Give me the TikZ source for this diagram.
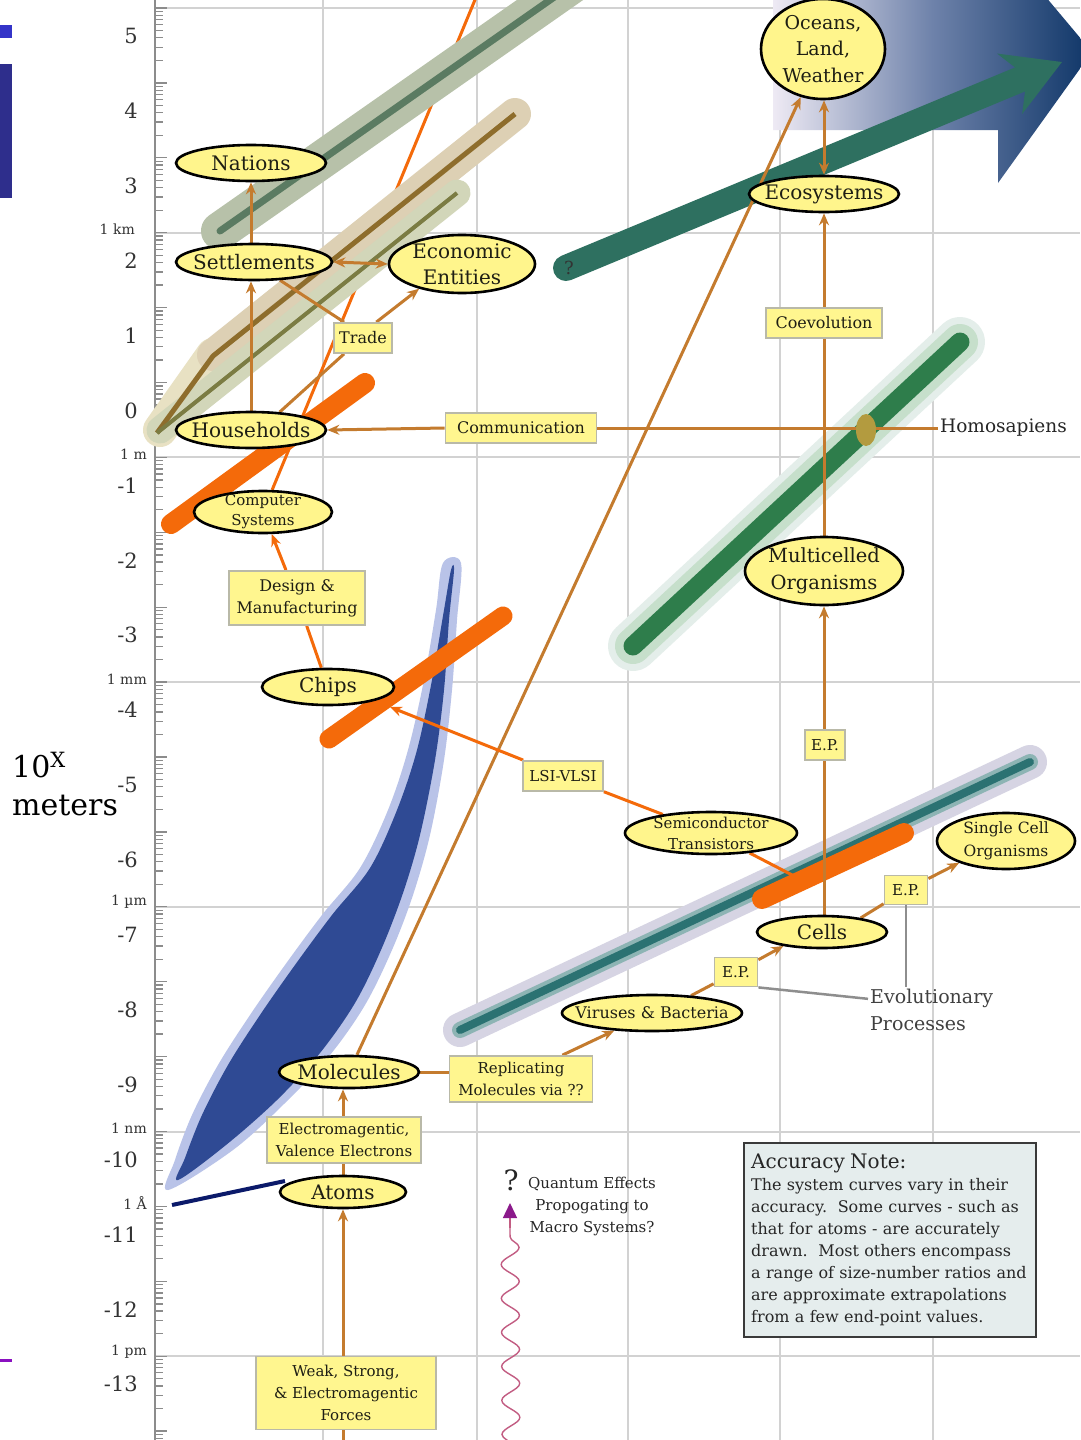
\documentclass[tikz,border=0pt]{standalone}
\usepackage{fontspec}
\setmainfont{DejaVu Serif}
\usetikzlibrary{shapes.geometric,arrows.meta,decorations.pathmorphing}

\definecolor{ellfill}{HTML}{FFF58C}
\definecolor{boxfill}{HTML}{FFF68F}
\definecolor{boxline}{HTML}{B9B9A8}
\definecolor{txt}{HTML}{1E1E14}
\definecolor{brn}{HTML}{C47B2E}
\definecolor{org}{HTML}{F46A0A}
\definecolor{gridc}{HTML}{D2D2D2}
\definecolor{axisc}{HTML}{8C8C8C}
\definecolor{grayline}{HTML}{8E8E8E}
\definecolor{natband}{HTML}{B7C1A9}
\definecolor{natline}{HTML}{5B7B62}
\definecolor{tanband}{HTML}{DDD0B4}
\definecolor{tanlight}{HTML}{E8E1C3}
\definecolor{tanline}{HTML}{8E6D2C}
\definecolor{econband}{HTML}{D2D6B9}
\definecolor{econline}{HTML}{7B7C43}
\definecolor{bluelt}{HTML}{B9C3E8}
\definecolor{bluedk}{HTML}{2F4A94}
\definecolor{mcout}{HTML}{E4EEEA}
\definecolor{mcmid}{HTML}{C6DFCB}
\definecolor{mcin}{HTML}{2E7D4B}
\definecolor{scout}{HTML}{D6D4E3}
\definecolor{scmid}{HTML}{8DB4B4}
\definecolor{scin}{HTML}{2B7272}
\definecolor{tealarr}{HTML}{2E7060}
\definecolor{oceanL}{HTML}{EEEAF4}
\definecolor{oceanM}{HTML}{6E82AA}
\definecolor{oceanR}{HTML}{0E3567}
\definecolor{atomline}{HTML}{0B1A6A}
\definecolor{qwave}{HTML}{C25C82}
\definecolor{qarr}{HTML}{8B1A8B}
\definecolor{hdot}{HTML}{B39B3F}
\definecolor{notefill}{HTML}{E5EDED}
\definecolor{notebd}{HTML}{3A3A3A}
\definecolor{sidebluea}{HTML}{3434C8}
\definecolor{sideblueb}{HTML}{2E2E8C}
\definecolor{sidepurple}{HTML}{8A10C0}

\pgfdeclarelayer{grid}
\pgfdeclarelayer{bars}
\pgfdeclarelayer{conn}
\pgfsetlayers{grid,bars,conn,main}

\newcommand\fsz[2]{\fontsize{#1pt}{#2pt}\selectfont}

\begin{document}
\begin{tikzpicture}[x=1pt,y=-1pt,
  ell/.style={ellipse, draw=black, line width=2.6pt, fill=ellfill, inner sep=0pt},
  lbl/.style={font=\fsz{20}{26}, align=center, text=txt, inner sep=0pt},
  lblbox/.style={rectangle, draw=boxline, line width=1.8pt, fill=boxfill,
    inner xsep=5pt, inner ysep=3pt, align=center, font=\fsz{16}{22}, text=txt},
  brnline/.style={draw=brn, line width=3pt},
  orgline/.style={draw=org, line width=3pt},
  gryline/.style={draw=grayline, line width=2.5pt},
  arr/.style={-{Stealth[length=12pt,width=10pt]}},
  dbl/.style={{Stealth[length=12pt,width=10pt]}-{Stealth[length=12pt,width=10pt]}},
  gridline/.style={draw=gridc, line width=2pt},
  tickline/.style={draw=axisc, line width=1.3pt},
  axlbl/.style={anchor=east, font=\fsz{21}{24}, text=black!80, inner sep=0pt},
  unitlbl/.style={anchor=east, font=\fsz{14}{16}, text=black!80, inner sep=0pt},
  band/.style={line cap=round, line join=round}
]
\useasboundingbox (0,0) rectangle (1080,1440);

% ---------- system nodes ----------
\node[ell, minimum width=150pt, minimum height=36pt, label={[lbl]center:Nations}] (nat) at (251,163) {};
\node[ell, minimum width=156pt, minimum height=36pt, label={[lbl]center:Settlements}] (sett) at (254,262) {};
\node[ell, minimum width=146pt, minimum height=58pt, label={[lbl]center:Economic\\Entities}] (econ) at (462,264) {};
\node[ell, minimum width=150pt, minimum height=36pt, label={[lbl]center:Households}] (hh) at (251,430) {};
\node[ell, minimum width=138pt, minimum height=42pt, label={[lbl,font=\fsz{15}{20}]center:Computer\\Systems}] (comp) at (263,512) {};
\node[ell, minimum width=132pt, minimum height=36pt, label={[lbl]center:Chips}] (chips) at (328,687) {};
\node[ell, minimum width=140pt, minimum height=32pt, label={[lbl]center:Molecules}] (mol) at (349,1072) {};
\node[ell, minimum width=126pt, minimum height=32pt, label={[lbl]center:Atoms}] (atoms) at (343,1192) {};
\node[ell, minimum width=124pt, minimum height=100pt, label={[lbl,font=\fsz{19}{26.5}]center:Oceans,\\Land,\\Weather}] (ocean) at (823,49) {};
\node[ell, minimum width=150pt, minimum height=36pt, label={[lbl]center:Ecosystems}] (eco) at (824,194) {};
\node[ell, minimum width=158pt, minimum height=68pt, label={[lbl,font=\fsz{19.5}{27}]center:Multicelled\\Organisms}] (multi) at (824,571) {};
\node[ell, minimum width=172pt, minimum height=42pt, label={[lbl,font=\fsz{15}{21}]center:Semiconductor\\Transistors}] (semi) at (711,833) {};
\node[ell, minimum width=138pt, minimum height=56pt, label={[lbl,font=\fsz{15.5}{23}]center:Single Cell\\Organisms}] (single) at (1006,841) {};
\node[ell, minimum width=130pt, minimum height=32pt, label={[lbl]center:Cells}] (cells) at (822,932) {};
\node[ell, minimum width=180pt, minimum height=36pt, label={[lbl,font=\fsz{16}{20}]center:Viruses \& Bacteria}] (vir) at (652,1013) {};

% ---------- process labels ----------
\node[lblbox, minimum width=57pt, minimum height=30pt] (trade) at (363,338) {Trade};
\node[lblbox, minimum width=151pt, minimum height=30pt] (comm) at (521,428) {Communication};
\node[lblbox, minimum width=116pt, minimum height=30pt] (coev) at (824,323) {Coevolution};
\node[lblbox, minimum width=136pt, minimum height=54pt] (design) at (297,598) {Design \&\\Manufacturing};
\node[lblbox, minimum width=80pt, minimum height=30pt, font=\fsz{15}{20}] (lsi) at (563,776) {LSI-VLSI};
\node[lblbox, minimum width=40pt, minimum height=30pt, font=\fsz{15}{20}] (ep1) at (825,745) {E.P.};
\node[lblbox, minimum width=43pt, minimum height=29pt, font=\fsz{15}{20}] (ep2) at (906,890) {E.P.};
\node[lblbox, minimum width=43pt, minimum height=29pt, font=\fsz{15}{20}] (ep3) at (736,972) {E.P.};
\node[lblbox, minimum width=143pt, minimum height=46pt, font=\fsz{15}{22}] (repl) at (521,1079) {Replicating\\Molecules via ??};
\node[lblbox, minimum width=154pt, minimum height=46pt, font=\fsz{15}{22}] (emv) at (344,1140) {Electromagentic,\\Valence Electrons};
\node[lblbox, minimum width=180pt, minimum height=73pt, font=\fsz{15}{22}] (wsf) at (346,1393) {Weak, Strong,\\\& Electromagentic\\Forces};

% ---------- free text ----------
\node[anchor=west, font=\fsz{18.5}{24}, text=black!85, inner sep=2pt] (homo) at (938,428) {Homosapiens};
\node[ellipse, fill=hdot, minimum width=20pt, minimum height=32pt, inner sep=0pt] (hsdot) at (866,430) {};
\node[anchor=north west, align=left, font=\fsz{19}{27}, text=black!75, inner sep=2pt] (evo) at (868,987) {Evolutionary\\Processes};
\node[font=\fsz{15}{22}, align=center, text=black!85, inner sep=0pt] (qtext) at (592,1206) {Quantum Effects\\Propogating to\\Macro Systems?};
\node[font=\fsz{28}{30}, text=black!85, inner sep=0pt] (qmark) at (511,1180) {?};
\node[font=\fsz{18}{20}, text=black!80, inner sep=0pt] (tq) at (569,268) {?};
\node[anchor=north west, draw=notebd, line width=2.4pt, fill=notefill, text width=278pt,
  inner xsep=7pt, inner ysep=6pt, minimum height=194pt, align=left, font=\fsz{16}{22}, text=black!85] (acc) at (743,1142)
  {{\fsz{20}{22}Accuracy Note:}\\The system curves vary in their\\accuracy.\ \ Some curves - such as\\that for atoms - are accurately\\drawn.\ \ Most others encompass\\a range of size-number ratios and\\are approximate extrapolations\\from a few end-point values.};

% axis labels
\foreach \v [count=\i from 0] in {5,4,...,-13}
  \node[axlbl] (ax\i) at (138,{36+74.9*\i}) {\v};
\node[unitlbl] (ukm) at (135,229) {1 km};
\node[unitlbl] (um) at (147,454) {1 m};
\node[unitlbl] (umm) at (147,679) {1 mm};
\node[unitlbl] (uum) at (147,902) {1 µm};
\node[unitlbl] (unm) at (147,1128) {1 nm};
\node[unitlbl] (uang) at (147,1203) {1 Å};
\node[unitlbl] (upm) at (147,1352) {1 pm};
\node[anchor=base west, font=\fsz{30}{36}, inner sep=0pt] (ten) at (12,777) {10\textsuperscript{X}};
\node[anchor=base west, font=\fsz{30}{36}, inner sep=0pt] (met) at (12,815) {meters};

% free ends
\coordinate (comptop) at (477,-5);
\coordinate (chipin) at (390,707);
\coordinate (cbar) at (796,877);
\coordinate (wbot) at (343,1445);

% ---------- grid, axis, ticks ----------
\begin{pgfonlayer}{grid}
\fill[white] (0,0) rectangle (1080,1440);
\fill[sidebluea] (0,25) rectangle (12,38);
\fill[sideblueb] (0,64) rectangle (12,198);
\fill[sidepurple] (0,1359) rectangle (12,1362);
\foreach \gx in {323,477,628,780,933} \draw[gridline] (\gx,0) -- (\gx,1440);
\foreach \gy in {8,232.7,457.4,682.1,906.8,1131.5,1356.2} \draw[gridline] (155,\gy) -- (1080,\gy);
\draw[draw=axisc, line width=2pt] (155,0) -- (155,1440);
\foreach \m in {0,...,19}{
  \foreach \k in {2,...,9}{
    \pgfmathsetmacro{\ty}{8+74.9*(\m+1)-74.9*log10(\k)}
    \draw[tickline] (155,\ty) -- (163,\ty);
  }
  \draw[tickline] (155,{8+74.9*\m}) -- (167,{8+74.9*\m});
}
\draw[orgline] (comp) -- (comptop);
\end{pgfonlayer}

% ---------- system curves ----------
\begin{pgfonlayer}{bars}
\shade[left color=oceanL, right color=oceanR, middle color=oceanM]
  (773,-10) -- (998,-10) -- (998,-60) -- (1092,52) -- (998,183) -- (998,130) -- (773,130) -- cycle;
% nations
\draw[band, line width=38pt, natband] (220,231) -- (600,-35);
\draw[band, line width=7pt, natline] (220,231) -- (600,-35);
% settlements and economic entities
\draw[band, line width=34pt, tanlight] (160,430) -- (213,355);
\draw[band, line width=32pt, tanband] (213,355) -- (515,114);
\draw[band, line width=27pt, econband] (160,430) -- (457,193);
\draw[line join=round, line width=5pt, tanline] (157,433) -- (213,356) -- (515,114);
\draw[line width=4pt, econline] (157,433) -- (457,193);
% households
\draw[band, line width=20pt, org] (171,524) -- (365,383);
% molecules
\fill[bluelt] plot[smooth cycle, tension=0.55] coordinates {
  (443,563) (436,610) (424,680) (408,750) (388,810) (360,868) (322,915) (285,965)
  (250,1015) (218,1065) (192,1115) (175,1160) (168,1190)
  (233,1150) (285,1103) (330,1055) (365,1005) (392,950) (413,895) (430,835)
  (444,760) (452,690) (457,620) (461,563)};
\fill[bluedk] plot[smooth cycle, tension=0.55] coordinates {
  (451,570) (444,610) (432,680) (417,750) (397,810) (370,868) (332,915) (295,965)
  (260,1015) (228,1065) (202,1115) (185,1158) (178,1180)
  (226,1145) (277,1100) (320,1053) (355,1003) (381,950) (403,893) (420,835)
  (435,760) (444,690) (449,620) (454,570)};
% chips
\draw[band, line width=19pt, org] (329,739) -- (503,616);
% multicelled organisms
\draw[band, line width=50pt, mcout] (633,646) -- (960,342);
\draw[band, line width=36pt, mcmid] (633,646) -- (960,342);
\draw[band, line width=19pt, mcin] (633,646) -- (960,342);
% single cell organisms
\draw[band, line width=34pt, scout] (460,1030) -- (1030,762);
\draw[band, line width=16pt, scmid] (460,1030) -- (1030,762);
\draw[band, line width=8pt, scin] (460,1030) -- (1030,762);
% cells
\draw[band, line width=20pt, org] (762,899) -- (904,833);
% ecosystems
\draw[line width=26pt, tealarr, line cap=round, -{Stealth[length=56pt,width=64pt,inset=18pt]}] (566,268) -- (1062,62);
% atoms
\draw[line width=4pt, atomline] (172,1205) -- (285,1181);
% quantum effects
\draw[decorate, decoration={snake, segment length=34pt, amplitude=9pt}, qwave, line width=1.4pt] (511,1445) -- (510,1226);
\draw[qwave, line width=1.4pt, -{Triangle[length=15pt,width=14pt,color=qarr]}] (510,1228) -- (510,1203);
\end{pgfonlayer}

% ---------- connectors ----------
\begin{pgfonlayer}{conn}
\draw[brnline, arr] (sett.north -| nat.south) -- (nat.south);
\draw[brnline, arr] (hh.north) -- (hh.north |- sett.south);
\draw[brnline, dbl] (sett.east) -- (econ.west);
\draw[brnline] (sett.-35) -- (trade.140);
\draw[brnline] (hh.32) -- (trade.-140);
\draw[brnline, arr] (trade.50) -- (econ.-150);
\draw[brnline, arr] (comm.west) -- (hh.east);
\draw[brnline] (comm.east) -- (homo.west);
\draw[brnline, arr] (mol) -- (ocean);
\draw[brnline, dbl] (eco.north) -- (ocean.south -| eco.north);
\draw[brnline, arr] (multi.north) -- (eco.south);
\draw[brnline, arr] (cells.north -| multi.south) -- (multi.south);
\draw[brnline, arr] (cells.20) -- (ep2) -- (single.-155);
\draw[brnline, arr] (vir.24) -- (ep3) -- (cells.-160);
\draw[brnline, arr] (repl.30) -- (vir.-155);
\draw[brnline] (mol.east) -- (mol.east -| repl.west);
\draw[brnline, arr] (atoms.north) -- (atoms.north |- mol.south);
\draw[brnline, arr] (wbot) -- (atoms.south);
\draw[orgline, arr] (chips) -- (design) -- (comp);
\draw[orgline, arr] (semi) -- (lsi) -- (chipin);
\draw[orgline] (semi) -- (cbar);
\draw[gryline] (ep3.south east) -- (evo.170);
\draw[gryline] (ep2.south) -- (ep2.south |- evo.north);
\end{pgfonlayer}
\end{tikzpicture}
\end{document}
